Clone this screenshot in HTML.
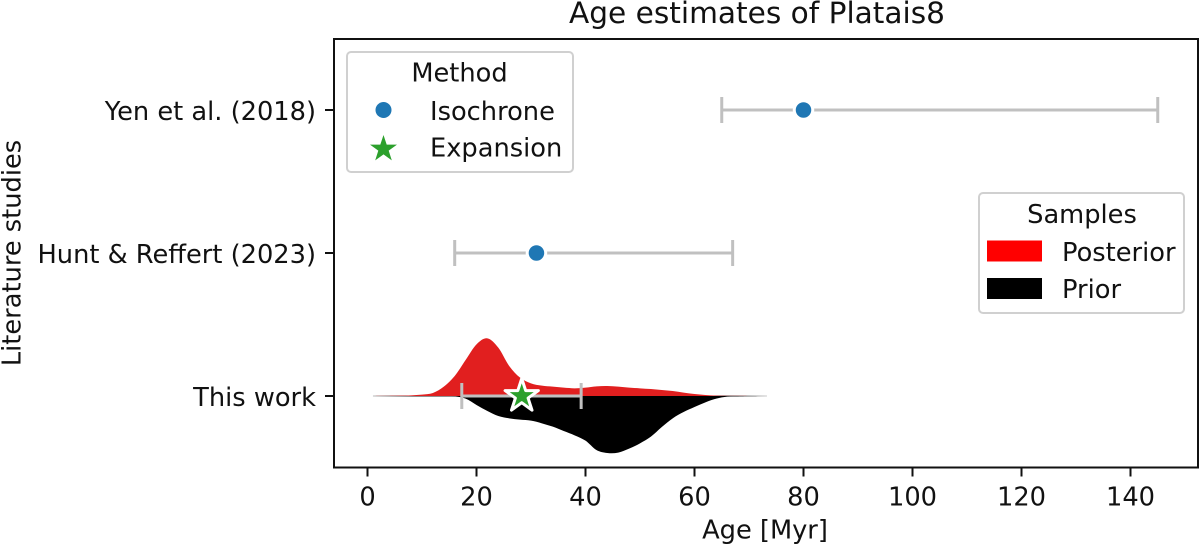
<!DOCTYPE html>
<html lang="en">
<head>
<meta charset="utf-8">
<title>Age estimates of Platais8</title>
<style>
html,body{margin:0;padding:0;background:#fff;}
#chart{display:block;width:1200px;height:547px;}
text{font-family:"DejaVu Sans","Liberation Sans",sans-serif;fill:#111;}
</style>
</head>
<body>
<svg id="chart" xmlns="http://www.w3.org/2000/svg" width="1200" height="547" viewBox="0 0 1200 547">
  <defs>
    <linearGradient id="taper-gradient" x1="0" x2="1" y1="0" y2="0">
      <stop offset="0" stop-color="#bbb"/>
      <stop offset="0.1" stop-color="#222"/>
      <stop offset="0.88" stop-color="#222"/>
      <stop offset="1" stop-color="#ccc"/>
    </linearGradient>
  </defs>
  <text x="757" y="23" font-size="29.6" text-anchor="middle">Age estimates of Platais8</text>
  <g id="density"></g>
  <g id="errorbars"></g>
  <g id="markers"></g>
  <rect x="334" y="39" width="864" height="428.5" fill="none" stroke="#111" stroke-width="2"/>
  <g id="xaxis"></g>
  <g id="yaxis"></g>
  <text x="765" y="538.5" font-size="25.7" text-anchor="middle">Age [Myr]</text>
  <text transform="translate(20.5,253) rotate(-90)" font-size="25.7" text-anchor="middle">Literature studies</text>

  <g>
    <rect x="347" y="52" width="226" height="120" rx="4" fill="#fff" fill-opacity="0.9" stroke="#d0d0d0" stroke-width="2"/>
    <text x="459.5" y="81.5" font-size="25.7" text-anchor="middle">Method</text>
    <circle cx="383.5" cy="110" r="8" fill="#1f77b4"/>
    <text x="430" y="120" font-size="25.7">Isochrone</text>
    <polygon points="383.5,135 386.7,144.6 397,144.6 388.7,150.6 391.8,160.4 383.5,154.4 375.2,160.4 378.3,150.6 370,144.6 380.3,144.6" fill="#2ca02c"/>
    <text x="430" y="156.5" font-size="25.7">Expansion</text>
  </g>

  <g>
    <rect x="979" y="193" width="205" height="120" rx="4" fill="#fff" stroke="#d0d0d0" stroke-width="2"/>
    <text x="1082" y="223" font-size="25.7" text-anchor="middle">Samples</text>
    <rect x="987" y="240.5" width="55" height="21" fill="#ff0000"/>
    <text x="1062" y="261" font-size="25.7">Posterior</text>
    <rect x="987" y="278" width="55" height="21" fill="#000"/>
    <text x="1062" y="298" font-size="25.7">Prior</text>
  </g>
</svg>
<script>
const xTicks = [0, 20, 40, 60, 80, 100, 120, 140];
const studies = ["Yen et al. (2018)", "Hunt & Reffert (2023)", "This work"];
const methods = ["isochrone", "isochrone", "expansion"];
const bestAge = [80, 31, 28.3];
const lowerAge = [65, 16, 17.3];
const upperAge = [145, 67, 39.2];
const densityAges = [1, 4, 6, 8, 10, 12, 14, 16, 18, 20, 22, 24, 26, 28, 30, 32, 34, 36, 38, 40, 42, 44, 46, 48, 50, 52, 54, 56, 58, 60, 62, 64, 66, 68, 70, 73.3];
const posteriorDensity = [0, 0.5, 1, 2, 4, 9, 28, 60, 108, 155, 173, 145, 90, 55, 38, 31, 28, 25, 23, 25, 29, 30, 28, 25, 23, 21, 18, 15, 10, 6, 3, 1, 0.5, 0.2, 0, 0];
const priorDensity = [0, 0, 0, 0, 0, 0, 0, 1, 8, 27, 45, 60, 67, 71, 74, 82, 92, 105, 118, 134, 162, 171, 170, 158, 142, 122, 93, 67, 48, 33, 19, 8, 2, 1, 0.5, 0];

const SVG_NS = "http://www.w3.org/2000/svg";
function xScale(age) { return 367.5 + age * 5.45; }
function yScale(index) { return 110 + index * 143; }
function densityScale(value) { return value / 3; }

function svgEl(tag, attrs, parent) {
  const el = document.createElementNS(SVG_NS, tag);
  for (const k in attrs) el.setAttribute(k, attrs[k]);
  parent.appendChild(el);
  return el;
}

function smoothPath(points) {
  let d = "M" + points[0][0].toFixed(2) + " " + points[0][1].toFixed(2);
  for (let i = 0; i < points.length - 1; i++) {
    const p0 = points[Math.max(i - 1, 0)];
    const p1 = points[i];
    const p2 = points[i + 1];
    const p3 = points[Math.min(i + 2, points.length - 1)];
    const c1x = p1[0] + (p2[0] - p0[0]) / 6;
    const c1y = p1[1] + (p2[1] - p0[1]) / 6;
    const c2x = p2[0] - (p3[0] - p1[0]) / 6;
    const c2y = p2[1] - (p3[1] - p1[1]) / 6;
    d += "C" + c1x.toFixed(2) + " " + c1y.toFixed(2) + " " + c2x.toFixed(2) + " " + c2y.toFixed(2) + " " + p2[0].toFixed(2) + " " + p2[1].toFixed(2);
  }
  return d;
}

function starPoints(cx, cy, outer) {
  const inner = outer * 0.382;
  const pts = [];
  for (let i = 0; i < 10; i++) {
    const r = i % 2 === 0 ? outer : inner;
    const a = -Math.PI / 2 + i * Math.PI / 5;
    pts.push((cx + r * Math.cos(a)).toFixed(2) + "," + (cy + r * Math.sin(a)).toFixed(2));
  }
  return pts.join(" ");
}

const densityGroup = document.getElementById("density");
const errorGroup = document.getElementById("errorbars");
const markerGroup = document.getElementById("markers");
const xAxisGroup = document.getElementById("xaxis");
const yAxisGroup = document.getElementById("yaxis");

const baseY = yScale(2);
const posteriorPoints = densityAges.map((a, i) => [xScale(a), baseY - densityScale(posteriorDensity[i])]);
const priorPoints = densityAges.map((a, i) => [xScale(a), baseY + densityScale(priorDensity[i])]);

const taper = svgEl("rect", {
  x: xScale(densityAges[0]), width: xScale(densityAges[densityAges.length - 1]) - xScale(densityAges[0]),
  y: baseY - 0.5, height: 1, fill: "url(#taper-gradient)"
}, densityGroup);


const posteriorShape = svgEl("path", { d: smoothPath(posteriorPoints) + "Z", fill: "#e11f1f" }, densityGroup);


const priorShape = svgEl("path", { d: smoothPath(priorPoints) + "Z", fill: "#000" }, densityGroup);



studies.forEach((study, i) => {
  const y = yScale(i);
  const cap = 13;
  const attrs = { stroke: "#c0c0c0", "stroke-width": 3 };
  const bar = svgEl("line", Object.assign({ x1: xScale(lowerAge[i]), x2: xScale(upperAge[i]), y1: y, y2: y }, attrs), errorGroup);
  
  
  const capLow = svgEl("line", Object.assign({ x1: xScale(lowerAge[i]), x2: xScale(lowerAge[i]), y1: y - cap, y2: y + cap }, attrs), errorGroup);
  
  
  const capHigh = svgEl("line", Object.assign({ x1: xScale(upperAge[i]), x2: xScale(upperAge[i]), y1: y - cap, y2: y + cap }, attrs), errorGroup);
  
  

  let marker;
  if (methods[i] === "isochrone") {
    marker = svgEl("circle", { cx: xScale(bestAge[i]), cy: y, r: 9.25, fill: "#1f77b4", stroke: "#fff", "stroke-width": 3 }, markerGroup);
  } else {
    marker = svgEl("polygon", { points: starPoints(xScale(bestAge[i]), y, 17.5), fill: "#2ca02c", stroke: "#fff", "stroke-width": 3, "stroke-linejoin": "round" }, markerGroup);
  }
  
  

  const tick = svgEl("line", { x1: 325, x2: 334, y1: y, y2: y, stroke: "#111", "stroke-width": 2 }, yAxisGroup);
  
  
  const label = svgEl("text", { x: 316, y: y + 10, "font-size": 25.7, "text-anchor": "end" }, yAxisGroup);
  label.textContent = study;
  
  
});

xTicks.forEach((t) => {
  const x = xScale(t);
  const tick = svgEl("line", { x1: x, x2: x, y1: 467.5, y2: 476.5, stroke: "#111", "stroke-width": 2 }, xAxisGroup);
  
  
  const label = svgEl("text", { x: x, y: 505.5, "font-size": 25.7, "text-anchor": "middle" }, xAxisGroup);
  label.textContent = String(t);
  
  
});
</script>
</body>
</html>
